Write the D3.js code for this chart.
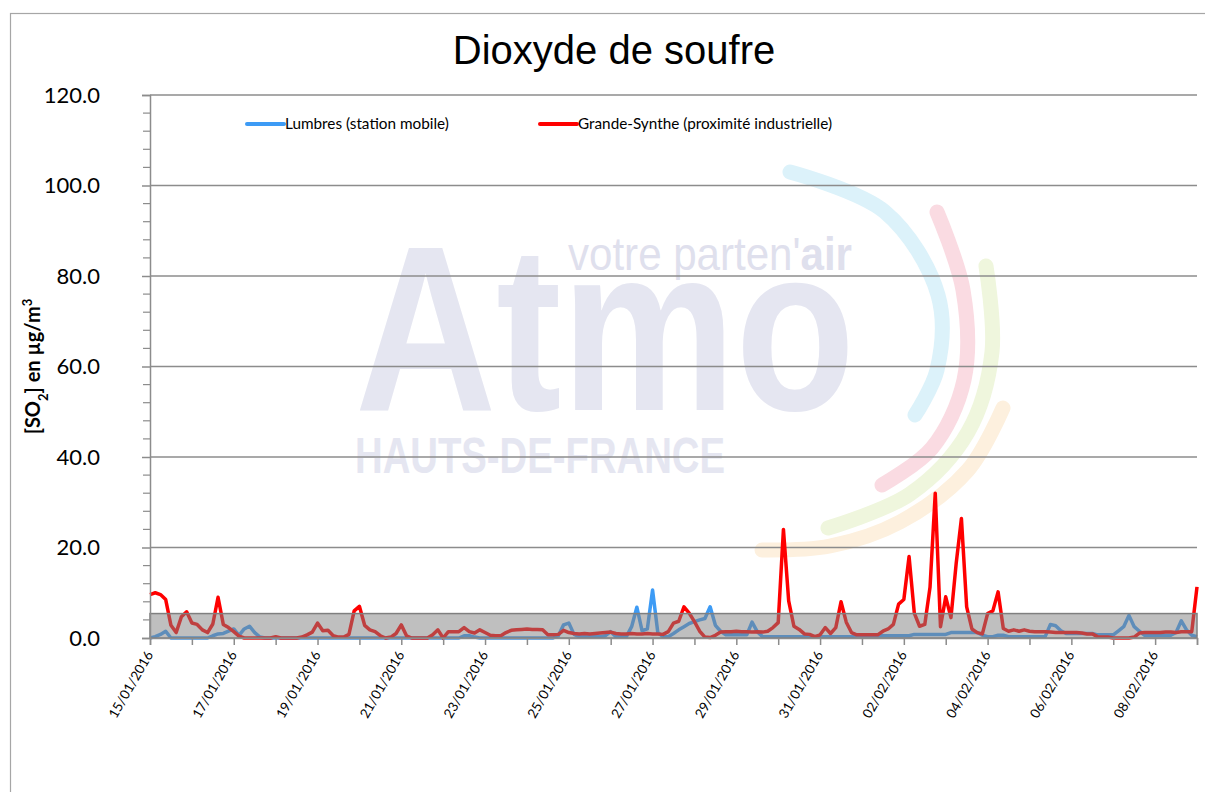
<!DOCTYPE html>
<html>
<head>
<meta charset="utf-8">
<script src="https://cdn.jsdelivr.net/npm/d3@7"></script>
<style>
  body { margin: 0; background: #fff; }
  #chart svg { display: block; }
</style>
</head>
<body>
<div id="chart"></div>
<script>
// series names
var seriesNames = ["Lumbres (station mobile)", "Grande-Synthe (proximité industrielle)"];
var seriesColors = ["#3d9bf5", "#ff0000"];

// time base: one value every 3 hours from 15/01/2016 00:00
var startDate = new Date(2016, 0, 15, 0, 0);
var endDate = new Date(2016, 1, 9, 0, 0);
var stepHours = 3;

// Lumbres (station mobile), µg/m3
var lumbres = [
  0, 0.3, 0.8, 1.5, 0, 0, 0, 0,
  0, 0, 0, 0, 0.5, 0.9, 1.0, 1.5,
  2.0, 0.6, 2.0, 2.6, 1.2, 0.2, 0, 0,
  0, 0, 0, 0, 0, 0, 0, 0,
  0, 0, 0, 0, 0, 0, 0, 0,
  0, 0, 0, 0, 0, 0, 0, 0,
  0, 0, 0, 0, 0, 0, 0, 0,
  0, 0, 0, 0, 0.5, 0.5, 0.2, 0,
  0, 0, 0, 0, 0, 0, 0, 0,
  0, 0, 0, 0, 0, 0, 0.5, 2.9,
  3.3, 0.8, 0.3, 0.3, 0.3, 0.3, 0.3, 0.5,
  1.4, 0.3, 0.3, 0.3, 2.5, 6.8, 1.6, 2.0,
  10.6, 1.2, 0.3, 0.3, 1.0, 1.8, 2.5, 3.2,
  3.6, 4.0, 4.3, 6.9, 2.8, 1.5, 0.7, 0.7,
  0.7, 0.7, 0.7, 3.5, 1.4, 0.3, 0.3, 0.3,
  0.3, 0.3, 0.3, 0.3, 0.3, 0.3, 0.3, 0.3,
  0.3, 0.3, 0.3, 0.3, 0.3, 0.3, 0.3, 0.5,
  0.5, 0.5, 0.5, 0.5, 0.5, 0.5, 0.5, 0.5,
  0.5, 0.5, 0.8, 0.8, 0.8, 0.8, 0.8, 0.8,
  0.8, 1.2, 1.2, 1.2, 1.2, 1.2, 1.2, 0.6,
  0.3, 0.3, 0.6, 0.6, 0.3, 0.3, 0.3, 0.3,
  0.3, 0.3, 0.3, 0.3, 3.0, 2.7, 1.6, 1.0,
  1.0, 1.0, 1.0, 1.0, 1.0, 0.7, 0.7, 0.7,
  0.7, 1.6, 2.5, 5.0, 2.5, 1.5, 0.6, 0.6,
  0.6, 0.6, 0.6, 0.6, 1.2, 3.8, 1.8, 0.6,
  0.3
];

// Grande-Synthe (proximité industrielle), µg/m3
var grandeSynthe = [
  9.6, 10.0, 9.6, 8.5, 2.8, 1.2, 4.7, 5.8,
  3.3, 3.0, 1.8, 1.2, 3.1, 9.0, 3.0, 2.3,
  1.4, 0.4, 0, 0, 0, 0, 0, 0,
  0.3, 0, 0, 0, 0, 0.2, 0.7, 1.3,
  3.3, 1.6, 1.7, 0.5, 0.2, 0.2, 0.8, 6.0,
  7.0, 2.8, 1.8, 1.4, 0.5, 0, 0.2, 1.0,
  2.9, 0.5, 0, 0, 0, 0, 0.7, 1.8,
  0, 1.4, 1.4, 1.4, 2.3, 1.4, 1.1, 1.8,
  1.2, 0.6, 0.5, 0.5, 1.2, 1.7, 1.8, 1.9,
  2.0, 1.9, 1.9, 1.8, 0.7, 0.7, 0.8, 1.7,
  1.2, 1.0, 0.9, 1.0, 0.9, 1.0, 1.1, 1.2,
  1.3, 1.0, 0.9, 0.9, 1.0, 0.9, 0.9, 1.0,
  0.9, 0.9, 0.8, 1.4, 3.3, 3.7, 6.9, 5.5,
  3.6, 1.5, 0.2, 0.1, 0.6, 1.3, 1.4, 1.4,
  1.5, 1.4, 1.4, 1.3, 1.4, 1.3, 1.5, 2.3,
  3.4, 24.0, 8.2, 2.6, 1.9, 0.9, 0.8, 0.3,
  0.7, 2.3, 1.0, 2.3, 8.0, 3.5, 1.2, 0.7,
  0.7, 0.7, 0.7, 0.7, 1.5, 2.0, 3.0, 7.5,
  8.5, 18.0, 5.5, 2.6, 3.0, 11.2, 32.0, 2.5,
  9.1, 4.5, 16.5, 26.4, 6.9, 2.0, 1.2, 0.9,
  5.4, 6.0, 10.2, 2.1, 1.5, 1.8, 1.5, 1.8,
  1.5, 1.4, 1.4, 1.4, 1.3, 1.2, 1.2, 1.2,
  1.2, 1.2, 1.1, 0.9, 0.9, 0.3, 0.2, 0.2,
  0, 0, 0, 0, 0.2, 1.1, 1.2, 1.2,
  1.2, 1.2, 1.3, 1.3, 1.2, 1.4, 1.4, 1.4,
  11.3
];

// grey reference band (0 to 5.4 µg/m3)
var bandValues = [0, 5.4];

// y axis ticks
var yMajorTicks = [0, 20, 40, 60, 80, 100, 120];
var yMinorTicks = [4, 8, 12, 16, 24, 28, 32, 36, 44, 48, 52, 56, 64, 68, 72, 76, 84, 88, 92, 96, 104, 108, 112, 116];

// set the dimensions and margins of the graph
var W = 1205, H = 792;
var margin = {top: 95, right: 8, bottom: 154, left: 150},
    width = W - margin.left - margin.right,
    height = H - margin.top - margin.bottom;

var svg = d3.select("#chart").append("svg")
    .attr("width", W)
    .attr("height", H);

// chart frame
svg.append("rect")
    .attr("x", 10.5).attr("y", 13.5)
    .attr("width", 1400).attr("height", 1000)
    .attr("fill", "#fff")
    .attr("stroke", "#a6a6a6")
    .attr("stroke-width", 1.2);

// watermark logo
var wm = svg.append("g").attr("class", "watermark");
var arcLine = d3.line().curve(d3.curveCatmullRom);
var arcs = [
  {c: "#dcf2fa", p: [[790,172],[885,212],[938,295],[937,370],[915,415]]},
  {c: "#fadbe2", p: [[937,212],[963,290],[964,380],[932,448],[882,485]]},
  {c: "#eff6dd", p: [[986,266],[992,352],[968,432],[910,494],[828,528]]},
  {c: "#fdf0de", p: [[1003,408],[968,470],[900,522],[830,546],[762,550]]}
];
arcs.forEach(function(a) {
  wm.append("path")
      .attr("d", arcLine(a.p))
      .attr("fill", "none")
      .attr("stroke", a.c)
      .attr("stroke-width", 15)
      .attr("stroke-linecap", "round");
});
wm.append("text")
    .attr("x", 355).attr("y", 410)
    .attr("textLength", 500).attr("lengthAdjust", "spacingAndGlyphs")
    .style("font-family", "'Liberation Sans', Arial, sans-serif")
    .style("font-size", "236px")
    .style("font-weight", "bold")
    .style("fill", "#e5e6f1")
    .text("Atmo");
var vt = wm.append("text")
    .attr("x", 568).attr("y", 270)
    .attr("textLength", 284).attr("lengthAdjust", "spacingAndGlyphs")
    .style("font-family", "'Liberation Sans', Arial, sans-serif")
    .style("font-size", "46px")
    .style("fill", "#dfe0ed");
vt.append("tspan").text("votre parten'");
vt.append("tspan").style("font-weight", "bold").text("air");
wm.append("text")
    .attr("x", 355).attr("y", 473)
    .attr("textLength", 370).attr("lengthAdjust", "spacingAndGlyphs")
    .style("font-family", "'Liberation Sans', Arial, sans-serif")
    .style("font-size", "50px")
    .style("font-weight", "bold")
    .style("fill", "#e5e6f1")
    .text("HAUTS-DE-FRANCE");

var g = svg.append("g")
    .attr("transform", "translate(" + margin.left + "," + margin.top + ")");

// set the ranges
var x = d3.scaleTime()
    .domain([startDate, endDate])
    .range([0, width]);
var y = d3.scaleLinear()
    .domain([0, 120])
    .range([height, 0]);

// gridlines
g.selectAll(".grid")
    .data(yMajorTicks.slice(1))
  .enter().append("line")
    .attr("class", "grid")
    .attr("x1", 0).attr("x2", width)
    .attr("y1", function(d) { return y(d); })
    .attr("y2", function(d) { return y(d); })
    .attr("stroke", "#8c8c8c")
    .attr("stroke-width", 1.5);

// lines
function toPoints(vals) {
  return vals.map(function(v, i) {
    return {date: d3.timeHour.offset(startDate, i * stepHours), value: v};
  });
}
var line = d3.line()
    .x(function(d) { return x(d.date); })
    .y(function(d) { return y(d.value); });

[lumbres, grandeSynthe].forEach(function(vals, k) {
  g.append("path")
      .datum(toPoints(vals))
      .attr("d", line)
      .attr("fill", "none")
      .attr("stroke", seriesColors[k])
      .attr("stroke-width", 3.5)
      .attr("stroke-linejoin", "round");
});

// grey band drawn over the lines
g.append("rect")
    .attr("x", 0)
    .attr("y", y(bandValues[1]))
    .attr("width", width)
    .attr("height", y(bandValues[0]) - y(bandValues[1]))
    .attr("fill", "rgba(128,128,128,0.5)")
    .attr("stroke", "#7f7f7f")
    .attr("stroke-width", 1.5);

// y axis
var yAxis = g.append("g")
    .call(d3.axisLeft(y).tickValues(yMajorTicks).tickFormat(d3.format(".1f")).tickSize(8).tickPadding(42));
yAxis.select(".domain").attr("stroke", "#8c8c8c").attr("stroke-width", 1.5);
yAxis.selectAll(".tick line").attr("stroke", "#8c8c8c").attr("stroke-width", 1.5);
yAxis.selectAll("text")
    .style("font-family", "Lato, 'Open Sans', sans-serif")
    .style("font-size", "22px")
    .style("fill", "#000");
g.selectAll(".minor")
    .data(yMinorTicks)
  .enter().append("line")
    .attr("class", "minor")
    .attr("x1", -7).attr("x2", 0)
    .attr("y1", function(d) { return y(d); })
    .attr("y2", function(d) { return y(d); })
    .attr("stroke", "#8c8c8c")
    .attr("stroke-width", 1.2);

// x axis
var fmt = d3.timeFormat("%d/%m/%Y");
var xAxis = g.append("g")
    .attr("transform", "translate(0," + height + ")")
    .call(d3.axisBottom(x)
      .ticks(d3.timeDay.every(1))
      .tickFormat(function(d, i) { return i % 2 === 0 ? fmt(d) : ""; })
      .tickSize(7));
xAxis.select(".domain").attr("stroke", "#8c8c8c").attr("stroke-width", 1.5);
xAxis.selectAll(".tick line").attr("stroke", "#8c8c8c").attr("stroke-width", 1.5);
xAxis.selectAll("text")
    .attr("y", 0)
    .attr("x", 0)
    .attr("dy", ".35em")
    .attr("transform", "translate(-1,14) rotate(-60)")
    .style("text-anchor", "end")
    .style("font-family", "Lato, 'Open Sans', sans-serif")
    .style("font-size", "13.5px")
    .style("fill", "#000");

// text label for the y axis
var yl = svg.append("text")
    .attr("transform", "translate(40," + (margin.top + height / 2) + ") rotate(-90)")
    .style("text-anchor", "middle")
    .style("font-family", "Lato, 'Open Sans', sans-serif")
    .style("font-size", "20px")
    .style("font-weight", "bold");
yl.append("tspan").text("[SO");
yl.append("tspan").attr("baseline-shift", "sub").style("font-size", "13px").text("2");
yl.append("tspan").text("] en µg/m");
yl.append("tspan").attr("baseline-shift", "super").style("font-size", "13px").text("3");

// title
svg.append("text")
    .attr("x", 614)
    .attr("y", 64)
    .attr("text-anchor", "middle")
    .style("font-family", "'Liberation Sans', Arial, sans-serif")
    .style("font-size", "40px")
    .text("Dioxyde de soufre");

// legend
var legendX = [247, 540];
seriesNames.forEach(function(name, k) {
  var lg = svg.append("g").attr("transform", "translate(" + legendX[k] + ",124)");
  lg.append("line")
      .attr("x1", 0).attr("x2", 37)
      .attr("stroke", seriesColors[k])
      .attr("stroke-width", 4)
      .attr("stroke-linecap", "round");
  lg.append("text")
      .attr("x", 38).attr("y", 5)
      .style("font-family", "Lato, 'Open Sans', sans-serif")
      .style("font-size", "15.3px")
      .text(name);
});
</script>
</body>
</html>
